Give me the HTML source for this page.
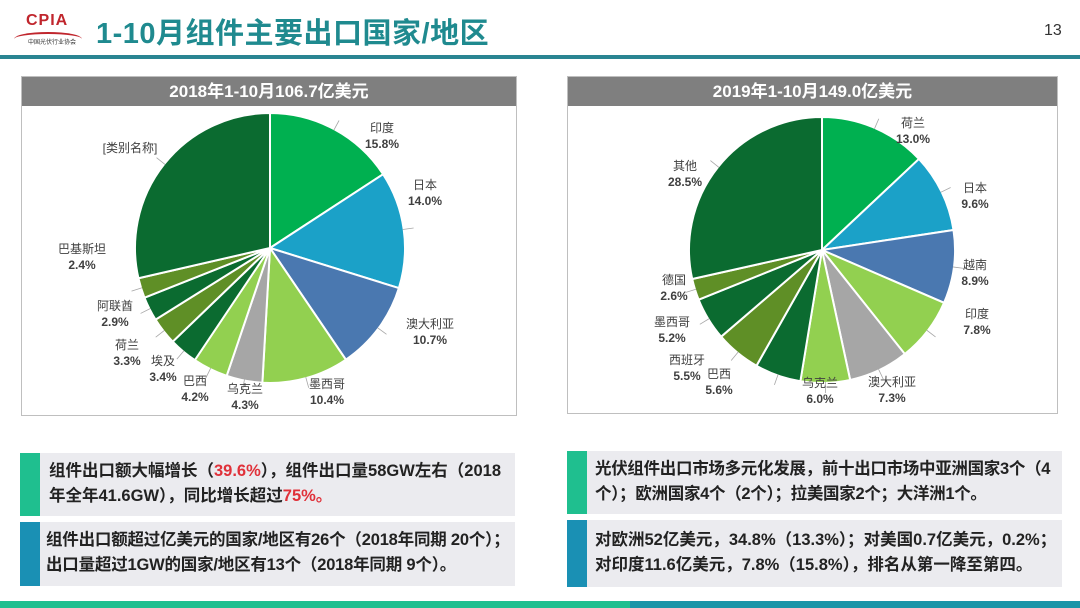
<!DOCTYPE html>
<html><head><meta charset="utf-8">
<style>
body{margin:0;width:1080px;height:608px;background:#fff;position:relative;overflow:hidden;font-family:"Liberation Sans","Noto Sans CJK SC",sans-serif}
.abs{position:absolute}
.title{left:96px;top:10px;font-size:29px;font-weight:bold;color:#1f8a8f;letter-spacing:0.5px}
.panel{border:1px solid #bfbfbf;background:#fff}
.ptitle{position:absolute;left:0;right:0;top:0;height:29px;background:#7f7f7f;color:#fff;font-weight:bold;font-size:17px;text-align:center;line-height:29px}
.box{background:#ebebef}
.acc{position:absolute;left:0;top:0;bottom:0;width:20px}
.btxt{position:absolute;left:28px;top:6px;font-size:16.5px;font-weight:bold;color:#222;line-height:25px;white-space:nowrap}
.red{color:#e0313a}
svg text{font-family:"Liberation Sans","Noto Sans CJK SC",sans-serif;font-size:12px;fill:#404040}
</style></head><body>
<div class="abs" style="left:14px;top:12px;width:68px;height:38px">
 <div style="position:absolute;left:12px;top:0;font:bold 16px 'Liberation Sans',sans-serif;color:#c0262d;letter-spacing:1px">CPIA</div>
 <div style="position:absolute;left:0;top:20px;width:68px;height:12px;border-top:2px solid #c0262d;border-radius:50% 50% 0 0"></div>
 <div style="position:absolute;left:14px;top:25px;font-size:6px;color:#333">中国光伏行业协会</div>
</div>
<div class="abs title">1-10月组件主要出口国家/地区</div>
<div class="abs" style="left:1044px;top:22px;font-size:16px;color:#333">13</div>
<div class="abs" style="left:0;top:55px;width:1080px;height:4px;background:#2a8592"></div>

<div class="abs panel" style="left:21px;top:76px;width:494px;height:338px">
 <div class="ptitle">2018年1-10月106.7亿美元</div>
</div>
<div class="abs panel" style="left:567px;top:76px;width:489px;height:336px">
 <div class="ptitle">2019年1-10月149.0亿美元</div>
</div>
<svg class="abs" id="chart" style="left:0;top:0" width="1080" height="430"></svg>

<div class="abs box" style="left:20px;top:453px;width:495px;height:63px">
 <div class="acc" style="background:#1fbf8f"></div>
 <div class="btxt" style="left:29px">组件出口额大幅增长（<span class="red">39.6%</span>），组件出口量58GW左右（2018<br>年全年41.6GW），同比增长超过<span class="red">75%。</span></div>
</div>
<div class="abs box" style="left:20px;top:522px;width:495px;height:64px">
 <div class="acc" style="background:#1a90b4"></div>
 <div class="btxt" style="left:26px;top:6px;letter-spacing:-0.2px">组件出口额超过亿美元的国家/地区有26个（2018年同期 20个）；<br>出口量超过1GW的国家/地区有13个（2018年同期 9个）。</div>
</div>
<div class="abs box" style="left:567px;top:451px;width:495px;height:63px">
 <div class="acc" style="background:#1fbf8f"></div>
 <div class="btxt" style="letter-spacing:-0.3px">光伏组件出口市场多元化发展，前十出口市场中亚洲国家3个（4<br>个）；欧洲国家4个（2个）；拉美国家2个；大洋洲1个。</div>
</div>
<div class="abs box" style="left:567px;top:520px;width:495px;height:67px">
 <div class="acc" style="background:#1a90b4"></div>
 <div class="btxt" style="top:8px">对欧洲52亿美元，34.8%（13.3%）；对美国0.7亿美元，0.2%；<br>对印度11.6亿美元，7.8%（15.8%），排名从第一降至第四。</div>
</div>
<div class="abs" style="left:0;top:601px;width:630px;height:7px;background:#1fbf8f"></div>
<div class="abs" style="left:630px;top:601px;width:450px;height:7px;background:#1a95a8"></div>

<script>
const labels2018=["印度","日本","澳大利亚","墨西哥","乌克兰","巴西","埃及","荷兰","阿联酋","巴基斯坦","[类别名称]"];
const values2018=[15.8,14.0,10.7,10.4,4.3,4.2,3.4,3.3,2.9,2.4,28.6];
const pct2018=["15.8%","14.0%","10.7%","10.4%","4.3%","4.2%","3.4%","3.3%","2.9%","2.4%",""];
const labels2019=["荷兰","日本","越南","印度","澳大利亚","乌克兰","巴西","西班牙","墨西哥","德国","其他"];
const values2019=[13.0,9.6,8.9,7.8,7.3,6.0,5.6,5.5,5.2,2.6,28.5];
const pct2019=["13.0%","9.6%","8.9%","7.8%","7.3%","6.0%","5.6%","5.5%","5.2%","2.6%","28.5%"];
const G="#00b050",B="#1ba1c8",S="#4a78b0",L="#92d050",Y="#a6a6a6",D="#0b6b30",O="#5f8f26";
const colors2018=[G,B,S,L,Y,L,D,O,D,O,D];
const colors2019=[G,B,S,L,Y,L,D,O,D,O,D];
// label layout (pixel anchors, not data)
const layout2018=[[382,134],[425,191],[430,330],[327,390],[245,395],[195,387],[163,367],[127,351],[115,312],[82,255],[130,154]];
const layout2019=[[913,129],[975,194],[975,271],[977,320],[892,388],[820,389],[719,380],[687,366],[672,328],[674,286],[685,172]];
const svg=document.getElementById('chart');
const NS="http://www.w3.org/2000/svg";
function pt(cx,cy,r,a){return [cx+r*Math.sin(a),cy-r*Math.cos(a)];}
function drawPie(id,cx,cy,r,labels,values,pcts,colors,layout){
  const total=values.reduce((a,b)=>a+b,0);
  let a0=0;
  values.forEach((v,i)=>{
    const a1=a0+v/total*2*Math.PI;
    const p0=pt(cx,cy,r,a0),p1=pt(cx,cy,r,a1);
    const large=(a1-a0)>Math.PI?1:0;
    const path=document.createElementNS(NS,'path');
    path.setAttribute('d',`M${cx},${cy}L${p0[0]},${p0[1]}A${r},${r} 0 ${large} 1 ${p1[0]},${p1[1]}Z`);
    path.setAttribute('fill',colors[i]);
    path.setAttribute('stroke','#fff');
    path.setAttribute('stroke-width','2');
    
    
    svg.appendChild(path);
    const am=(a0+a1)/2;
    const lp=layout[i];
    const e=pt(cx,cy,r-1,am);
    const e2=pt(cx,cy,r+10,am);
    const ln=document.createElementNS(NS,'line');
    ln.setAttribute('x1',e[0]);ln.setAttribute('y1',e[1]);ln.setAttribute('x2',e2[0]);ln.setAttribute('y2',e2[1]);
    ln.setAttribute('stroke','#a6a6a6');ln.setAttribute('stroke-width','0.8');
    
    
    svg.appendChild(ln);
    const t=document.createElementNS(NS,'text');
    t.setAttribute('x',lp[0]);t.setAttribute('y',lp[1]-2);
    t.setAttribute('text-anchor','middle');
    
    
    t.textContent=labels[i];
    svg.appendChild(t);
    if(pcts[i]){
      const t2=document.createElementNS(NS,'text');
      t2.setAttribute('x',lp[0]);t2.setAttribute('y',lp[1]+14);
      t2.setAttribute('text-anchor','middle');
      t2.setAttribute('font-weight','bold');
      
      
      t2.textContent=pcts[i];
      svg.appendChild(t2);
    }
    a0=a1;
  });
}
drawPie('pie2018',270,248,135,labels2018,values2018,pct2018,colors2018,layout2018);
drawPie('pie2019',822,250,133,labels2019,values2019,pct2019,colors2019,layout2019);
</script>
</body></html>
